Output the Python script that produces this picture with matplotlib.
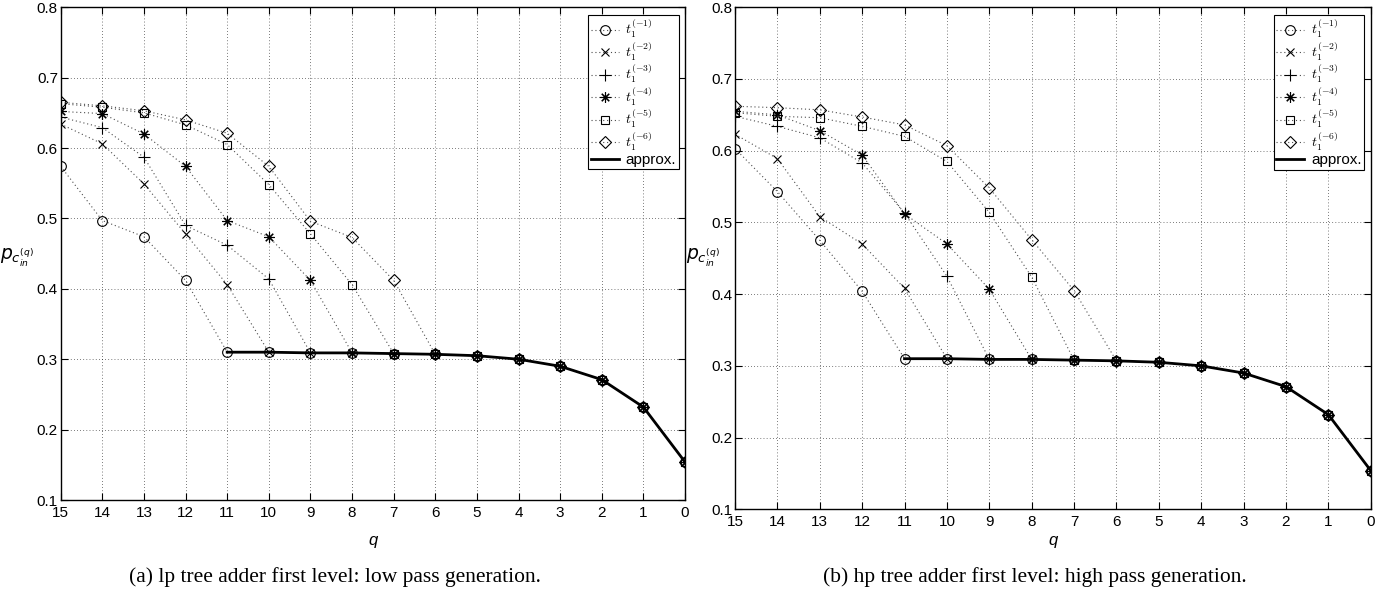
import matplotlib
matplotlib.use("Agg")
import matplotlib.pyplot as plt

plt.rcParams['font.family'] = ['Liberation Sans', 'DejaVu Sans']
plt.rcParams['mathtext.fontset'] = 'cm'

# ==== data ====
q = [15, 14, 13, 12, 11, 10, 9, 8, 7, 6, 5, 4, 3, 2, 1, 0]
q_approx = [11, 10, 9, 8, 7, 6, 5, 4, 3, 2, 1, 0]

# (a) lp tree adder, first level
lp_t1 = [0.574, 0.497, 0.474, 0.412, 0.310, 0.310, 0.309, 0.309, 0.308, 0.307, 0.305, 0.300, 0.290, 0.271, 0.232, 0.154]
lp_t2 = [0.634, 0.606, 0.549, 0.478, 0.406, 0.310, 0.309, 0.309, 0.308, 0.307, 0.305, 0.300, 0.290, 0.271, 0.232, 0.154]
lp_t3 = [0.644, 0.629, 0.587, 0.490, 0.462, 0.414, 0.309, 0.309, 0.308, 0.307, 0.305, 0.300, 0.290, 0.271, 0.232, 0.154]
lp_t4 = [0.652, 0.649, 0.620, 0.574, 0.497, 0.474, 0.412, 0.309, 0.308, 0.307, 0.305, 0.300, 0.290, 0.271, 0.232, 0.154]
lp_t5 = [0.663, 0.658, 0.650, 0.633, 0.605, 0.548, 0.478, 0.406, 0.308, 0.307, 0.305, 0.300, 0.290, 0.271, 0.232, 0.154]
lp_t6 = [0.665, 0.660, 0.653, 0.640, 0.621, 0.574, 0.496, 0.473, 0.412, 0.307, 0.305, 0.300, 0.290, 0.271, 0.232, 0.154]
lp_approx = [0.310, 0.310, 0.309, 0.309, 0.308, 0.307, 0.305, 0.300, 0.290, 0.271, 0.232, 0.154]

# (b) hp tree adder, first level
hp_t1 = [0.603, 0.543, 0.475, 0.404, 0.310, 0.310, 0.309, 0.309, 0.308, 0.307, 0.305, 0.300, 0.290, 0.271, 0.232, 0.154]
hp_t2 = [0.623, 0.589, 0.508, 0.470, 0.408, 0.310, 0.309, 0.309, 0.308, 0.307, 0.305, 0.300, 0.290, 0.271, 0.232, 0.154]
hp_t3 = [0.648, 0.634, 0.618, 0.583, 0.513, 0.425, 0.309, 0.309, 0.308, 0.307, 0.305, 0.300, 0.290, 0.271, 0.232, 0.154]
hp_t4 = [0.655, 0.650, 0.628, 0.594, 0.512, 0.470, 0.407, 0.309, 0.308, 0.307, 0.305, 0.300, 0.290, 0.271, 0.232, 0.154]
hp_t5 = [0.653, 0.648, 0.646, 0.634, 0.620, 0.585, 0.514, 0.424, 0.308, 0.307, 0.305, 0.300, 0.290, 0.271, 0.232, 0.154]
hp_t6 = [0.662, 0.660, 0.657, 0.647, 0.636, 0.607, 0.548, 0.476, 0.405, 0.307, 0.305, 0.300, 0.290, 0.271, 0.232, 0.154]
hp_approx = [0.310, 0.310, 0.309, 0.309, 0.308, 0.307, 0.305, 0.300, 0.290, 0.271, 0.232, 0.154]

labels = [r'$t_1^{(-1)}$', r'$t_1^{(-2)}$', r'$t_1^{(-3)}$',
          r'$t_1^{(-4)}$', r'$t_1^{(-5)}$', r'$t_1^{(-6)}$']
# matlab style markers; '*' is an 8 spoke asterisk there
markers = ['o', 'x', '+', (8, 2, 0), 's', 'D']
msizes = [7, 6, 8, 7.5, 5.5, 6]

captions = ['(a) lp tree adder first level: low pass generation.',
            '(b) hp tree adder first level: high pass generation.']


def draw_panel(ax, series, approx):
    for vals, lab, mk, ms in zip(series, labels, markers, msizes):
        ax.plot(q, vals, linestyle=(0, (1, 2.5)), color='0.3', lw=0.8,
                marker=mk, ms=ms, mfc='none', mec='black', mew=0.8, label=lab)
    ax.plot(q_approx, approx, '-', color='black', lw=2.0, label='approx.')

    ax.set_xlim(15, 0)
    ax.set_ylim(0.1, 0.8)
    ax.set_xticks(range(15, -1, -1))
    ax.set_yticks([0.1, 0.2, 0.3, 0.4, 0.5, 0.6, 0.7, 0.8])
    ax.set_yticklabels(['0.1', '0.2', '0.3', '0.4', '0.5', '0.6', '0.7', '0.8'])
    ax.tick_params(direction='in', top=True, right=True, length=5, width=0.8,
                   labelsize=11, colors='black')
    ax.tick_params(axis='x', pad=4)
    ax.tick_params(axis='y', pad=2)
    ax.grid(True, color='black', linestyle=(0, (1, 3.5)), lw=0.5)
    for s in ax.spines.values():
        s.set_linewidth(1.0)

    leg = ax.legend(loc='upper right', bbox_to_anchor=(0.99, 0.985),
                    fontsize=10, fancybox=False, framealpha=1, edgecolor='black',
                    handlelength=2.0, handletextpad=0.5, labelspacing=0.0,
                    borderpad=0.2, borderaxespad=0.0, numpoints=1)
    leg.get_frame().set_linewidth(0.8)
    for t in leg.get_texts():
        if t.get_text() == 'approx.':
            t.set_fontsize(11)


fig = plt.figure(figsize=(13.96, 5.92), dpi=100)
ax1 = fig.add_axes([0.0435, 0.1554, 0.4472, 0.8323])
ax2 = fig.add_axes([0.5265, 0.1397, 0.4554, 0.8480])

draw_panel(ax1, [lp_t1, lp_t2, lp_t3, lp_t4, lp_t5, lp_t6], lp_approx)
draw_panel(ax2, [hp_t1, hp_t2, hp_t3, hp_t4, hp_t5, hp_t6], hp_approx)

for ax, xc in [(ax1, 0.0125), (ax2, 0.5035)]:
    fig.text(xc, 0.565, r'$\mathit{p}_{c_{in}^{(q)}}$', fontsize=13.5,
             ha='center', va='center', math_fontfamily='dejavusans')
    pos = ax.get_position()
    fig.text((pos.x0 + pos.x1) / 2, 1 - 540 / 592, 'q', fontsize=12, style='italic',
             ha='center', va='center')

fig.text(0.240, 1 - 577 / 592, captions[0], fontsize=15.5, family='Liberation Serif',
         ha='center', va='center')
fig.text(0.741, 1 - 577 / 592, captions[1], fontsize=15.5, family='Liberation Serif',
         ha='center', va='center')

fig.savefig('out.png', dpi=100)
